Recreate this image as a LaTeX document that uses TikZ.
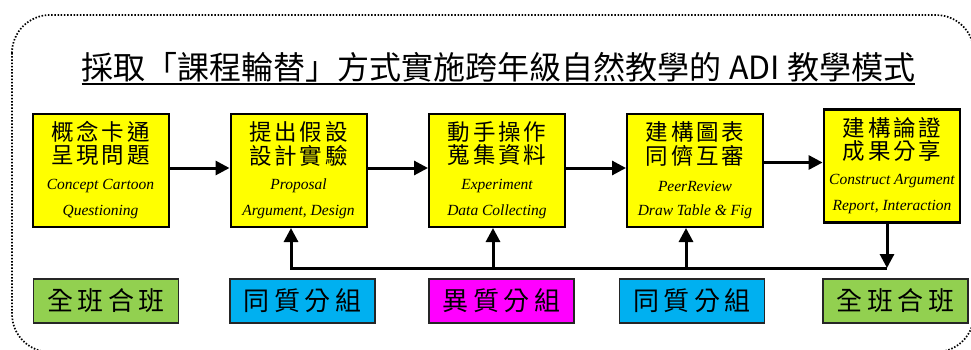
\documentclass[tikz,border=0pt]{standalone}
\usepackage{fontspec}
\setmainfont{Liberation Serif}
\newfontfamily\zhfont{Noto Sans CJK TC}
\newfontfamily\zhspaced{Noto Sans CJK TC}[LetterSpace=12]
\newfontfamily\zhwide{Noto Sans CJK TC}[LetterSpace=17]
\usetikzlibrary{arrows.meta}
\definecolor{stepyellow}{HTML}{FFFF00}
\definecolor{grpgreen}{HTML}{92D050}
\definecolor{grpcyan}{HTML}{00B0F0}
\definecolor{grpmagenta}{HTML}{FF00FF}

\begin{document}
\begin{tikzpicture}[x=1pt,y=-1pt,
  stepbox/.style={draw=black, line width=2pt, fill=stepyellow,
    minimum width=136pt, minimum height=113pt, inner sep=0pt},
  zhline/.style={font=\zhspaced\fontsize{22.5}{22.5}\selectfont, inner sep=0pt},
  enline/.style={font=\itshape\fontsize{15.5}{15.5}\selectfont, inner sep=0pt},
  grpbox/.style={draw=black!85, line width=1.6pt, minimum width=145pt,
    minimum height=44pt, inner sep=0pt,
    font=\zhwide\fontsize{26}{26}\selectfont},
  flow/.style={line width=3pt, -{Triangle[length=14pt,width=14pt]}},
  frame/.style={line width=1.7pt, dash pattern=on 1.5pt off 1.7pt,
    rounded corners=38pt},
]
\useasboundingbox (0,0) rectangle (971,349);

% dotted outer frame
\draw[frame] (12,15) rectangle (974,352);

% title
\node[font=\zhfont\fontsize{32}{32}\selectfont, inner sep=0pt] (title) at (498.5,67)
  {採取「課程輪替」方式實施跨年級自然教學的 ADI 教學模式};
\draw[line width=1.4pt] ([yshift=-2pt]title.south west) -- ([yshift=-2pt]title.south east);

% process steps
\node[stepbox] (b1) at (100.5,170.5) {};
\node[stepbox] (b2) at (298.5,170.5) {};
\node[stepbox] (b3) at (497,170.5) {};
\node[stepbox] (b4) at (695,170.5) {};
\node[stepbox, line width=2.8pt] (b5) at (892,166) {};

\node[zhline] (b1a) at ([yshift=38.5pt]b1.center) {概念卡通};
\node[zhline] (b1b) at ([yshift=15pt]b1.center) {呈現問題};
\node[enline] (b1c) at ([yshift=-15.5pt]b1.center) {Concept Cartoon};
\node[enline] (b1d) at ([yshift=-41.5pt]b1.center) {Questioning};

\node[zhline] (b2a) at ([yshift=38.5pt]b2.center) {提出假設};
\node[zhline] (b2b) at ([yshift=15pt]b2.center) {設計實驗};
\node[enline] (b2c) at ([yshift=-15.5pt]b2.center) {Proposal};
\node[enline] (b2d) at ([yshift=-41.5pt]b2.center) {Argument, Design};

\node[zhline] (b3a) at ([yshift=38.5pt]b3.center) {動手操作};
\node[zhline] (b3b) at ([yshift=15pt]b3.center) {蒐集資料};
\node[enline] (b3c) at ([yshift=-15.5pt]b3.center) {Experiment};
\node[enline] (b3d) at ([yshift=-41.5pt]b3.center) {Data Collecting};

\node[zhline] (b4a) at ([yshift=38.5pt]b4.center) {建構圖表};
\node[zhline] (b4b) at ([yshift=15pt]b4.center) {同儕互審};
\node[enline] (b4c) at ([yshift=-15.5pt]b4.center) {PeerReview};
\node[enline] (b4d) at ([yshift=-41.5pt]b4.center) {Draw Table \& Fig};

\node[zhline] (b5a) at ([yshift=38.5pt]b5.center) {建構論證};
\node[zhline] (b5b) at ([yshift=15pt]b5.center) {成果分享};
\node[enline] (b5c) at ([yshift=-15.5pt]b5.center) {Construct Argument};
\node[enline] (b5d) at ([yshift=-41.5pt]b5.center) {Report, Interaction};

% grouping modes
\node[grpbox, fill=grpgreen]   (g1) at (106,301)   {全班合班};
\node[grpbox, fill=grpcyan]    (g2) at (302.5,301) {同質分組};
\node[grpbox, fill=grpmagenta] (g3) at (501.5,301) {異質分組};
\node[grpbox, fill=grpcyan]    (g4) at (692,301)   {同質分組};
\node[grpbox, fill=grpgreen]   (g5) at (895.5,301) {全班合班};

% forward flow between steps
\draw[flow] ([yshift=2.5pt]b1.east) -- ([yshift=2.5pt]b2.west);
\draw[flow] ([yshift=2.5pt]b2.east) -- ([yshift=2.5pt]b3.west);
\draw[flow] ([yshift=2.5pt]b3.east) -- ([yshift=2.5pt]b4.west);
\draw[flow] ([yshift=8pt]b4.east) -- ([yshift=3.5pt]b5.west);

% feedback bus
\coordinate (busR) at (887,268);
\coordinate (busL) at (291,268);
\coordinate (j3) at (493,268);
\coordinate (j4) at (686,268);
\draw[flow] (busR |- b5.south) -- (busR);
\draw[flow] (busR) -- (busL) -- (busL |- b2.south);
\draw[flow] (j3) -- (j3 |- b3.south);
\draw[flow] (j4) -- (j4 |- b4.south);
\end{tikzpicture}
\end{document}
